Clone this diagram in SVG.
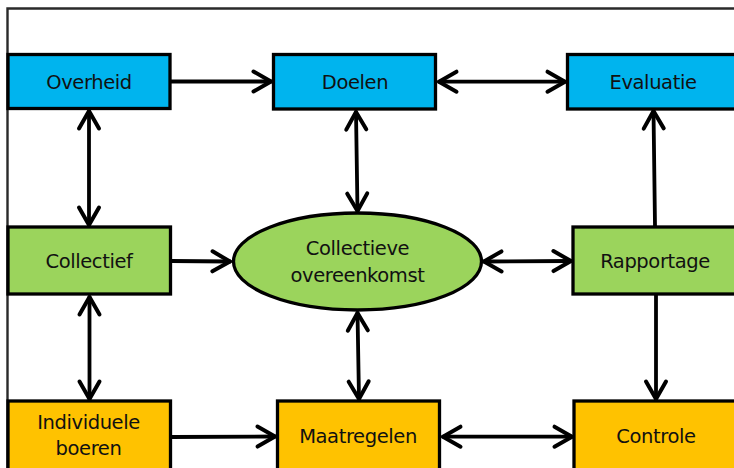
<svg xmlns="http://www.w3.org/2000/svg" width="734" height="468" viewBox="0 0 734 468">
  <style>
    .box { stroke: #000; stroke-width: 3.3; }
    .blue { fill: #00B4EE; }
    .green { fill: #9BD45C; }
    .orange { fill: #FFC200; }
    .lbl { font-family: "DejaVu Sans", Verdana, sans-serif; font-size: 19.5px; letter-spacing: -0.4px; fill: #111; text-anchor: middle; }
    .conn { stroke: #000; stroke-width: 3.8; fill: none; stroke-linecap: round; }
    .frame { stroke: #2a2a2a; stroke-width: 2.4; fill: none; }
  </style>
  <defs>
    <marker id="arr" markerUnits="userSpaceOnUse" viewBox="-24 -14 28 28" refX="0" refY="0" markerWidth="28" markerHeight="28" orient="auto-start-reverse">
      <path d="M-17.5,-10 L0,0 L-17.5,10" fill="none" stroke="#000" stroke-width="4" stroke-linecap="round" stroke-linejoin="round"/>
    </marker>
  </defs>
  <rect width="734" height="468" fill="#fff"/>
  <path class="frame" d="M7.5,470 L7.5,8.5 L740,8.5"/>

  <g id="connectors">
    <line class="conn" x1="171" y1="81.5" x2="271" y2="81.5" marker-end="url(#arr)"/>
    <line class="conn" x1="439" y1="81.7" x2="565" y2="81.7" marker-start="url(#arr)" marker-end="url(#arr)"/>
    <line class="conn" x1="89" y1="111" x2="89" y2="225" marker-start="url(#arr)" marker-end="url(#arr)"/>
    <line class="conn" x1="356" y1="112" x2="357.5" y2="211" marker-start="url(#arr)" marker-end="url(#arr)"/>
    <line class="conn" x1="655" y1="226" x2="653.5" y2="111" marker-end="url(#arr)"/>
    <line class="conn" x1="171" y1="261" x2="230" y2="261.5" marker-end="url(#arr)"/>
    <line class="conn" x1="484" y1="261.5" x2="571" y2="261" marker-start="url(#arr)" marker-end="url(#arr)"/>
    <line class="conn" x1="89.5" y1="297" x2="89.5" y2="399" marker-start="url(#arr)" marker-end="url(#arr)"/>
    <line class="conn" x1="357.5" y1="313" x2="359" y2="399" marker-start="url(#arr)" marker-end="url(#arr)"/>
    <line class="conn" x1="656" y1="295" x2="656" y2="399" marker-end="url(#arr)"/>
    <line class="conn" x1="171" y1="437" x2="275" y2="436.5" marker-end="url(#arr)"/>
    <line class="conn" x1="443" y1="436.7" x2="572" y2="436.7" marker-start="url(#arr)" marker-end="url(#arr)"/>
  </g>

  <g id="overheid">
    <rect class="box blue" x="8" y="54.5" width="162" height="54"/>
    <text class="lbl" x="89" y="88.5">Overheid</text>
  </g>
  <g id="doelen">
    <rect class="box blue" x="273.5" y="54.5" width="162" height="54.5"/>
    <text class="lbl" x="355" y="88.5">Doelen</text>
  </g>
  <g id="evaluatie">
    <rect class="box blue" x="567.5" y="54.5" width="190" height="54.5"/>
    <text class="lbl" x="653" y="88.5">Evaluatie</text>
  </g>
  <g id="collectief">
    <rect class="box green" x="8" y="227" width="162.5" height="67"/>
    <text class="lbl" x="89" y="268">Collectief</text>
  </g>
  <g id="collectieve-overeenkomst">
    <ellipse class="box green" cx="357.5" cy="261.5" rx="124" ry="48.5"/>
    <text class="lbl" x="357.5" y="255">Collectieve</text>
    <text class="lbl" x="357.5" y="281.5">overeenkomst</text>
  </g>
  <g id="rapportage">
    <rect class="box green" x="573" y="227" width="190" height="67"/>
    <text class="lbl" x="655" y="268">Rapportage</text>
  </g>
  <g id="individuele-boeren">
    <rect class="box orange" x="8" y="401" width="162.5" height="80"/>
    <text class="lbl" x="88.5" y="429">Individuele</text>
    <text class="lbl" x="88.5" y="455">boeren</text>
  </g>
  <g id="maatregelen">
    <rect class="box orange" x="277.5" y="401" width="162" height="80"/>
    <text class="lbl" x="358" y="443">Maatregelen</text>
  </g>
  <g id="controle">
    <rect class="box orange" x="574" y="401" width="190" height="80"/>
    <text class="lbl" x="656" y="443">Controle</text>
  </g>
</svg>
